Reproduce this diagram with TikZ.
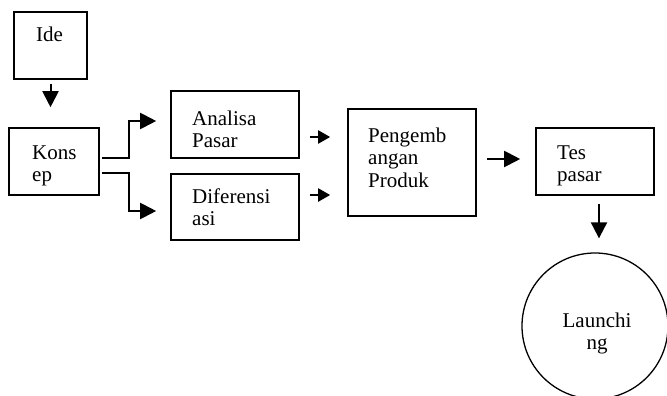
\documentclass[tikz,border=0pt]{standalone}
\usepackage{fontspec}
\setmainfont{Liberation Serif}
\usetikzlibrary{
    arrows.meta, % Filled triangle heads on the arrows.
}

\begin{document}
\begin{tikzpicture}[%
        x = 1pt,
        y = -1pt,
        box/.style = {draw, line width = 1.6pt, inner sep = 0pt},
        words/.style = {anchor = base west, inner sep = 0pt, align = left,
            font = \fontsize{21}{22.5}\selectfont},
        arrow/.style = {line width = 2pt,
            -{Triangle[length = 16pt, width = 16pt]}},
        short arrow/.style = {line width = 2pt,
            -{Triangle[length = 12pt, width = 13pt]}}
    ]

        \useasboundingbox (0, 0) rectangle (667, 396);

        % Boxes for all of the steps.
        \node[box, minimum width = 73pt, minimum height = 67pt] (ide) at (50.5, 45.5) {};
        \node[box, minimum width = 90pt, minimum height = 67pt] (konsep) at (54, 161.5) {};
        \node[box, minimum width = 128pt, minimum height = 67pt] (analisa) at (235, 124.5) {};
        \node[box, minimum width = 128pt, minimum height = 66pt] (diferensiasi) at (235, 207) {};
        \node[box, minimum width = 128pt, minimum height = 107pt] (pengembangan) at (412, 162.5) {};
        \node[box, minimum width = 118pt, minimum height = 67pt] (tes) at (595, 161.5) {};
        \node[draw, circle, line width = 1.3pt, minimum size = 146pt] (launching) at (595, 326) {};

        % Texts inside the boxes (placed by the baseline of the last line).
        \node[words] (ideText) at (36, 42) {Ide};
        \node[words] (konsepText) at (32, 181.5) {Kons\\ep};
        \node[words] (analisaText) at (192, 147.5) {Analisa\\Pasar};
        \node[words] (diferensiasiText) at (192, 225.5) {Diferensi\\asi};
        \node[words] (pengembanganText) at (368, 187) {Pengemb\\angan\\Produk};
        \node[words] (tesText) at (557, 181.5) {Tes\\pasar};
        \node[words, anchor = base, align = center] (launchingText) at (597, 349.5) {Launchi\\ng};

        % Points where the arrows bend or run.
        \coordinate (forkUp) at (129, 121);
        \coordinate (forkDown) at (129, 211);
        \coordinate (rowUp) at (0, 137);
        \coordinate (rowDown) at (0, 195);
        \coordinate (rowMid) at (0, 159);
        \coordinate (colTes) at (599, 0);

        % Arrows between the steps.
        \draw[arrow, shorten < = 4pt, shorten > = 20pt] (ide.south) to (ide.south |- konsep.north);
        \draw[arrow, shorten > = 14pt] ([xshift = 2pt, yshift = 3.5pt]konsep.east) -| (forkUp) -- (analisa.west |- forkUp);
        \draw[arrow, shorten > = 14pt] ([xshift = 2pt, yshift = -11.5pt]konsep.east) -| (forkDown) -- (diferensiasi.west |- forkDown);
        \draw[short arrow, shorten < = 10pt, shorten > = 17pt] (analisa.east |- rowUp) to (pengembangan.west |- rowUp);
        \draw[short arrow, shorten < = 10pt, shorten > = 17pt] (diferensiasi.east |- rowDown) to (pengembangan.west |- rowDown);
        \draw[arrow, shorten < = 10pt, shorten > = 15pt] (pengembangan.east |- rowMid) to (tes.west |- rowMid);
        \draw[arrow, shorten < = 8pt, shorten > = 14pt] (colTes |- tes.south) to (colTes |- launching.north);
    \end{tikzpicture}
\end{document}
